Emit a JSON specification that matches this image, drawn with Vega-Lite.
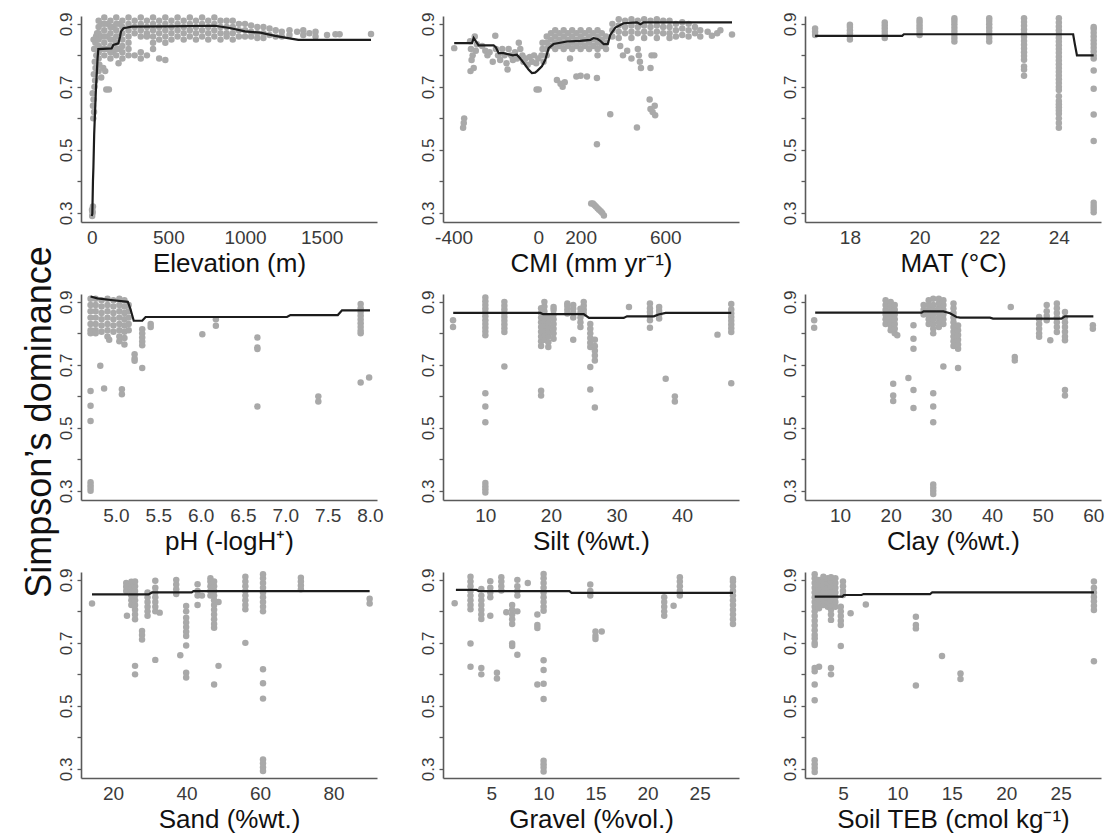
{
"$schema": "https://vega.github.io/schema/vega-lite/v6.json",
"background": "white",
"padding": {"left": 21, "top": 12, "right": 5, "bottom": 5},
"datasets": {
"p1": [
{"x":3,"y":0.29},{"x":6,"y":0.30},{"x":2,"y":0.31},{"x":8,"y":0.32},{"x":5,"y":0.305},
{"x":10,"y":0.60},{"x":15,"y":0.62},{"x":8,"y":0.64},{"x":12,"y":0.66},{"x":6,"y":0.68},{"x":18,"y":0.70},{"x":22,"y":0.72},{"x":14,"y":0.74},{"x":25,"y":0.76},{"x":20,"y":0.78},{"x":30,"y":0.80},{"x":16,"y":0.82},{"x":24,"y":0.84},{"x":28,"y":0.86},{"x":35,"y":0.87},{"x":12,"y":0.85},
{"x":50,"y":0.77},{"x":75,"y":0.76},{"x":88,"y":0.75},{"x":62,"y":0.73},{"x":95,"y":0.692},{"x":112,"y":0.692},{"x":45,"y":0.75},{"x":175,"y":0.775},
{"x":45,"y":0.91},{"x":45,"y":0.89},{"x":45,"y":0.87},{"x":45,"y":0.85},{"x":45,"y":0.83},{"x":45,"y":0.81},{"x":45,"y":0.79},
{"x":64,"y":0.90},{"x":64,"y":0.86},{"x":64,"y":0.82},{"x":102,"y":0.90},{"x":102,"y":0.86},{"x":102,"y":0.82},{"x":140,"y":0.89},{"x":140,"y":0.85},{"x":140,"y":0.81},{"x":180,"y":0.90},{"x":180,"y":0.86},{"x":180,"y":0.82},
{"x":82,"y":0.92},{"x":82,"y":0.90},{"x":82,"y":0.88},{"x":82,"y":0.86},{"x":82,"y":0.84},{"x":82,"y":0.82},{"x":82,"y":0.80},
{"x":122,"y":0.91},{"x":122,"y":0.89},{"x":122,"y":0.87},{"x":122,"y":0.85},{"x":122,"y":0.83},{"x":122,"y":0.81},{"x":122,"y":0.79},
{"x":160,"y":0.92},{"x":160,"y":0.90},{"x":160,"y":0.88},{"x":160,"y":0.86},{"x":160,"y":0.84},{"x":160,"y":0.82},{"x":160,"y":0.80},
{"x":200,"y":0.91},{"x":200,"y":0.89},{"x":200,"y":0.87},{"x":200,"y":0.85},{"x":200,"y":0.83},{"x":200,"y":0.81},{"x":200,"y":0.79},
{"x":240,"y":0.92},{"x":240,"y":0.90},{"x":240,"y":0.88},{"x":240,"y":0.86},{"x":240,"y":0.84},{"x":240,"y":0.82},{"x":240,"y":0.80},
{"x":280,"y":0.91},{"x":280,"y":0.89},{"x":280,"y":0.87},{"x":280,"y":0.80},
{"x":320,"y":0.92},{"x":320,"y":0.90},{"x":320,"y":0.88},{"x":320,"y":0.86},{"x":320,"y":0.81},{"x":320,"y":0.79},
{"x":360,"y":0.91},{"x":360,"y":0.89},{"x":360,"y":0.87},{"x":360,"y":0.86},{"x":360,"y":0.80},
{"x":400,"y":0.92},{"x":400,"y":0.90},{"x":400,"y":0.88},{"x":400,"y":0.86},{"x":400,"y":0.84},{"x":400,"y":0.82},
{"x":440,"y":0.91},{"x":440,"y":0.89},{"x":440,"y":0.87},{"x":440,"y":0.85},{"x":440,"y":0.79},
{"x":480,"y":0.92},{"x":480,"y":0.90},{"x":480,"y":0.88},{"x":480,"y":0.86},{"x":480,"y":0.84},{"x":480,"y":0.785},
{"x":520,"y":0.91},{"x":520,"y":0.89},{"x":520,"y":0.87},{"x":520,"y":0.85},
{"x":560,"y":0.92},{"x":560,"y":0.90},{"x":560,"y":0.88},{"x":560,"y":0.86},
{"x":600,"y":0.91},{"x":600,"y":0.89},{"x":600,"y":0.87},{"x":600,"y":0.85},
{"x":640,"y":0.92},{"x":640,"y":0.90},{"x":640,"y":0.88},{"x":640,"y":0.86},
{"x":680,"y":0.91},{"x":680,"y":0.89},{"x":680,"y":0.87},{"x":680,"y":0.85},
{"x":720,"y":0.92},{"x":720,"y":0.90},{"x":720,"y":0.88},{"x":720,"y":0.86},
{"x":760,"y":0.91},{"x":760,"y":0.89},{"x":760,"y":0.87},{"x":760,"y":0.85},
{"x":800,"y":0.92},{"x":800,"y":0.90},{"x":800,"y":0.88},{"x":800,"y":0.86},
{"x":840,"y":0.91},{"x":840,"y":0.89},{"x":840,"y":0.87},{"x":840,"y":0.85},
{"x":880,"y":0.91},{"x":880,"y":0.89},{"x":880,"y":0.87},{"x":880,"y":0.86},
{"x":920,"y":0.91},{"x":920,"y":0.89},{"x":920,"y":0.87},{"x":920,"y":0.85},
{"x":960,"y":0.90},{"x":960,"y":0.88},{"x":960,"y":0.86},
{"x":1000,"y":0.90},{"x":1000,"y":0.88},{"x":1000,"y":0.86},
{"x":1040,"y":0.895},{"x":1040,"y":0.875},{"x":1040,"y":0.86},
{"x":1080,"y":0.89},{"x":1080,"y":0.87},{"x":1080,"y":0.855},
{"x":1120,"y":0.89},{"x":1120,"y":0.87},{"x":1120,"y":0.855},
{"x":1160,"y":0.885},{"x":1160,"y":0.865},
{"x":1200,"y":0.88},{"x":1200,"y":0.86},
{"x":1240,"y":0.875},{"x":1240,"y":0.86},
{"x":1290,"y":0.88},{"x":1290,"y":0.865},
{"x":1340,"y":0.875},
{"x":1380,"y":0.88},{"x":1380,"y":0.865},
{"x":1420,"y":0.87},
{"x":1460,"y":0.875},{"x":1460,"y":0.86},
{"x":1535,"y":0.865},{"x":1590,"y":0.867},{"x":1617,"y":0.867},{"x":1822,"y":0.868}
],
"l1": [
{"x":0,"y":0.29},{"x":4,"y":0.297},{"x":8,"y":0.40},{"x":11,"y":0.445},{"x":16,"y":0.55},{"x":22,"y":0.626},{"x":28,"y":0.70},{"x":33,"y":0.743},{"x":38,"y":0.79},{"x":43,"y":0.82},{"x":130,"y":0.822},{"x":141,"y":0.833},{"x":174,"y":0.838},{"x":185,"y":0.86},{"x":191,"y":0.876},{"x":207,"y":0.886},{"x":261,"y":0.891},{"x":500,"y":0.892},{"x":804,"y":0.894},{"x":900,"y":0.887},{"x":1000,"y":0.876},{"x":1100,"y":0.872},{"x":1196,"y":0.862},{"x":1280,"y":0.855},{"x":1348,"y":0.849},{"x":1822,"y":0.849}
],
"r1": [{"x":0},{"x":500},{"x":1000},{"x":1500}],
"p2": [
{"x":-397,"y":0.823},
{"x":-350,"y":0.60},{"x":-352,"y":0.585},{"x":-355,"y":0.57},
{"x":-322,"y":0.845},{"x":-318,"y":0.82},{"x":-310,"y":0.80},{"x":-315,"y":0.785},{"x":-320,"y":0.75},{"x":-300,"y":0.86},{"x":-290,"y":0.835},{"x":-295,"y":0.815},{"x":-305,"y":0.76},
{"x":-265,"y":0.83},{"x":-250,"y":0.815},{"x":-240,"y":0.80},{"x":-203,"y":0.862},
{"x":-230,"y":0.81},{"x":-215,"y":0.78},{"x":-200,"y":0.82},{"x":-190,"y":0.80},{"x":-180,"y":0.785},{"x":-170,"y":0.82},{"x":-160,"y":0.80},{"x":-150,"y":0.775},{"x":-145,"y":0.755},{"x":-140,"y":0.82},{"x":-130,"y":0.80},{"x":-120,"y":0.785},{"x":-110,"y":0.81},{"x":-100,"y":0.79},{"x":-92,"y":0.84},{"x":-85,"y":0.82},{"x":-75,"y":0.80},{"x":-70,"y":0.78},{"x":-60,"y":0.79},{"x":-50,"y":0.77},{"x":-40,"y":0.795},{"x":-30,"y":0.78},{"x":-20,"y":0.80},{"x":-10,"y":0.775},{"x":0,"y":0.79},{"x":15,"y":0.80},{"x":25,"y":0.78},
{"x":-8,"y":0.692},{"x":2,"y":0.692},
{"x":20,"y":0.84},{"x":20,"y":0.82},
{"x":40,"y":0.86},{"x":40,"y":0.84},{"x":40,"y":0.82},{"x":40,"y":0.80},
{"x":60,"y":0.87},{"x":60,"y":0.85},{"x":60,"y":0.83},
{"x":80,"y":0.88},{"x":80,"y":0.86},{"x":80,"y":0.84},{"x":80,"y":0.82},
{"x":100,"y":0.87},{"x":100,"y":0.85},{"x":100,"y":0.83},
{"x":120,"y":0.88},{"x":120,"y":0.86},{"x":120,"y":0.84},{"x":120,"y":0.82},
{"x":140,"y":0.87},{"x":140,"y":0.85},{"x":140,"y":0.83},{"x":150,"y":0.79},
{"x":160,"y":0.88},{"x":160,"y":0.86},{"x":160,"y":0.84},{"x":160,"y":0.82},
{"x":180,"y":0.87},{"x":180,"y":0.85},{"x":180,"y":0.83},
{"x":200,"y":0.88},{"x":200,"y":0.86},{"x":200,"y":0.84},{"x":200,"y":0.82},
{"x":220,"y":0.87},{"x":220,"y":0.85},{"x":220,"y":0.83},
{"x":240,"y":0.88},{"x":240,"y":0.86},{"x":240,"y":0.84},{"x":240,"y":0.82},
{"x":260,"y":0.87},{"x":260,"y":0.85},{"x":260,"y":0.83},
{"x":280,"y":0.88},{"x":280,"y":0.86},{"x":280,"y":0.84},{"x":280,"y":0.82},{"x":280,"y":0.80},
{"x":300,"y":0.87},{"x":300,"y":0.85},{"x":300,"y":0.83},
{"x":320,"y":0.86},{"x":320,"y":0.84},{"x":320,"y":0.82},
{"x":88,"y":0.722},{"x":105,"y":0.71},{"x":115,"y":0.70},{"x":125,"y":0.715},{"x":180,"y":0.733},{"x":200,"y":0.735},{"x":230,"y":0.733},{"x":277,"y":0.728},{"x":277,"y":0.518},
{"x":250,"y":0.33},{"x":258,"y":0.33},{"x":265,"y":0.325},{"x":272,"y":0.32},{"x":280,"y":0.315},{"x":287,"y":0.31},{"x":295,"y":0.305},{"x":302,"y":0.30},{"x":310,"y":0.292},
{"x":340,"y":0.613},
{"x":350,"y":0.90},{"x":350,"y":0.88},{"x":350,"y":0.86},
{"x":380,"y":0.915},{"x":380,"y":0.895},{"x":380,"y":0.875},{"x":380,"y":0.855},
{"x":410,"y":0.91},{"x":410,"y":0.89},{"x":410,"y":0.87},
{"x":440,"y":0.915},{"x":440,"y":0.895},{"x":440,"y":0.875},{"x":440,"y":0.855},
{"x":470,"y":0.91},{"x":470,"y":0.89},{"x":470,"y":0.87},
{"x":500,"y":0.915},{"x":500,"y":0.895},{"x":500,"y":0.875},{"x":500,"y":0.855},
{"x":530,"y":0.91},{"x":530,"y":0.89},{"x":530,"y":0.87},
{"x":560,"y":0.915},{"x":560,"y":0.895},{"x":560,"y":0.875},{"x":560,"y":0.855},
{"x":590,"y":0.91},{"x":590,"y":0.89},{"x":590,"y":0.87},
{"x":620,"y":0.91},{"x":620,"y":0.89},{"x":620,"y":0.87},{"x":620,"y":0.855},
{"x":650,"y":0.90},{"x":650,"y":0.88},{"x":650,"y":0.86},
{"x":680,"y":0.905},{"x":680,"y":0.885},{"x":680,"y":0.865},
{"x":710,"y":0.90},{"x":710,"y":0.88},{"x":710,"y":0.86},
{"x":740,"y":0.89},{"x":740,"y":0.87},
{"x":765,"y":0.88},{"x":765,"y":0.86},
{"x":800,"y":0.875},{"x":820,"y":0.862},{"x":845,"y":0.87},{"x":860,"y":0.88},{"x":915,"y":0.866},
{"x":387,"y":0.83},{"x":400,"y":0.80},{"x":420,"y":0.815},{"x":440,"y":0.79},{"x":466,"y":0.571},{"x":470,"y":0.82},{"x":475,"y":0.80},{"x":480,"y":0.78},{"x":485,"y":0.76},
{"x":526,"y":0.66},{"x":530,"y":0.63},{"x":540,"y":0.62},{"x":550,"y":0.64},{"x":552,"y":0.61},{"x":535,"y":0.80},{"x":548,"y":0.80},{"x":530,"y":0.76}
],
"l2": [
{"x":-397,"y":0.839},{"x":-313,"y":0.839},{"x":-305,"y":0.855},{"x":-300,"y":0.85},{"x":-282,"y":0.832},{"x":-211,"y":0.832},{"x":-200,"y":0.825},{"x":-187,"y":0.807},{"x":-164,"y":0.807},{"x":-120,"y":0.80},{"x":-101,"y":0.802},{"x":-85,"y":0.79},{"x":-69,"y":0.776},{"x":-46,"y":0.755},{"x":-30,"y":0.744},{"x":-15,"y":0.745},{"x":-6,"y":0.75},{"x":17,"y":0.765},{"x":33,"y":0.786},{"x":49,"y":0.823},{"x":72,"y":0.836},{"x":135,"y":0.844},{"x":198,"y":0.846},{"x":246,"y":0.849},{"x":261,"y":0.855},{"x":280,"y":0.852},{"x":293,"y":0.846},{"x":309,"y":0.836},{"x":328,"y":0.836},{"x":340,"y":0.865},{"x":364,"y":0.888},{"x":403,"y":0.902},{"x":466,"y":0.905},{"x":482,"y":0.899},{"x":498,"y":0.905},{"x":915,"y":0.905}
],
"r2": [{"x":-400},{"x":-290},{"x":-195},{"x":-121},{"x":-6},{"x":112},{"x":180},{"x":198},{"x":309},{"x":372},{"x":443},{"x":498},{"x":600},{"x":805},{"x":923}],
"p3": [
{"x":17,"y":0.865},{"x":17,"y":0.875},{"x":17,"y":0.885},
{"x":18,"y":0.85},{"x":18,"y":0.86},{"x":18,"y":0.87},{"x":18,"y":0.88},{"x":18,"y":0.89},{"x":18,"y":0.897},
{"x":19,"y":0.855},{"x":19,"y":0.865},{"x":19,"y":0.875},{"x":19,"y":0.885},{"x":19,"y":0.895},{"x":19,"y":0.904},
{"x":20,"y":0.865},{"x":20,"y":0.875},{"x":20,"y":0.885},{"x":20,"y":0.895},{"x":20,"y":0.905},{"x":20,"y":0.913},
{"x":21,"y":0.844},{"x":21,"y":0.855},{"x":21,"y":0.866},{"x":21,"y":0.877},{"x":21,"y":0.888},{"x":21,"y":0.899},{"x":21,"y":0.909},{"x":21,"y":0.918},
{"x":22,"y":0.844},{"x":22,"y":0.855},{"x":22,"y":0.866},{"x":22,"y":0.877},{"x":22,"y":0.888},{"x":22,"y":0.899},{"x":22,"y":0.909},{"x":22,"y":0.918},
{"x":23,"y":0.786},{"x":23,"y":0.798},{"x":23,"y":0.81},{"x":23,"y":0.822},{"x":23,"y":0.834},{"x":23,"y":0.846},{"x":23,"y":0.858},{"x":23,"y":0.87},{"x":23,"y":0.882},{"x":23,"y":0.894},{"x":23,"y":0.906},{"x":23,"y":0.918},{"x":23,"y":0.765},{"x":23,"y":0.755},{"x":23,"y":0.735},
{"x":24,"y":0.70},{"x":24,"y":0.712},{"x":24,"y":0.724},{"x":24,"y":0.736},{"x":24,"y":0.748},{"x":24,"y":0.76},{"x":24,"y":0.772},{"x":24,"y":0.784},{"x":24,"y":0.796},{"x":24,"y":0.808},{"x":24,"y":0.82},{"x":24,"y":0.832},{"x":24,"y":0.844},{"x":24,"y":0.856},{"x":24,"y":0.868},{"x":24,"y":0.88},{"x":24,"y":0.892},{"x":24,"y":0.904},{"x":24,"y":0.918},
{"x":24,"y":0.69},{"x":24,"y":0.67},{"x":24,"y":0.655},{"x":24,"y":0.645},{"x":24,"y":0.635},{"x":24,"y":0.625},{"x":24,"y":0.615},{"x":24,"y":0.60},{"x":24,"y":0.585},{"x":24,"y":0.57},
{"x":25,"y":0.79},{"x":25,"y":0.80},{"x":25,"y":0.812},{"x":25,"y":0.824},{"x":25,"y":0.836},{"x":25,"y":0.848},{"x":25,"y":0.86},{"x":25,"y":0.872},{"x":25,"y":0.884},{"x":25,"y":0.89},
{"x":25,"y":0.752},{"x":25,"y":0.694},{"x":25,"y":0.612},{"x":25,"y":0.528},{"x":25,"y":0.332},{"x":25,"y":0.322},{"x":25,"y":0.312},{"x":25,"y":0.302}
],
"l3": [{"x":17,"y":0.862},{"x":19.5,"y":0.862},{"x":19.55,"y":0.867},{"x":24.41,"y":0.867},{"x":24.46,"y":0.835},{"x":24.52,"y":0.80},{"x":25,"y":0.80}],
"r3": [{"x":17},{"x":18},{"x":19},{"x":20},{"x":21},{"x":22},{"x":23},{"x":24},{"x":25}],
"p4": [
{"x":4.70,"y":0.91},{"x":4.70,"y":0.89},{"x":4.70,"y":0.87},{"x":4.70,"y":0.85},{"x":4.70,"y":0.83},{"x":4.70,"y":0.81},{"x":4.70,"y":0.80},
{"x":4.76,"y":0.91},{"x":4.76,"y":0.89},{"x":4.76,"y":0.87},{"x":4.76,"y":0.85},{"x":4.76,"y":0.83},{"x":4.76,"y":0.81},{"x":4.76,"y":0.80},
{"x":4.83,"y":0.905},{"x":4.83,"y":0.885},{"x":4.83,"y":0.865},{"x":4.83,"y":0.845},{"x":4.83,"y":0.825},{"x":4.83,"y":0.805},
{"x":4.90,"y":0.91},{"x":4.90,"y":0.89},{"x":4.90,"y":0.87},{"x":4.90,"y":0.85},{"x":4.90,"y":0.83},{"x":4.90,"y":0.81},{"x":4.90,"y":0.79},
{"x":4.97,"y":0.905},{"x":4.97,"y":0.885},{"x":4.97,"y":0.865},{"x":4.97,"y":0.845},{"x":4.97,"y":0.825},{"x":4.97,"y":0.805},
{"x":5.04,"y":0.91},{"x":5.04,"y":0.89},{"x":5.04,"y":0.87},{"x":5.04,"y":0.85},{"x":5.04,"y":0.83},{"x":5.04,"y":0.81},{"x":5.04,"y":0.79},{"x":5.04,"y":0.775},
{"x":5.10,"y":0.905},{"x":5.10,"y":0.885},{"x":5.10,"y":0.865},{"x":5.10,"y":0.845},{"x":5.10,"y":0.825},{"x":5.10,"y":0.805},{"x":5.10,"y":0.785},{"x":5.10,"y":0.765},
{"x":5.15,"y":0.89},{"x":5.15,"y":0.87},{"x":5.15,"y":0.85},{"x":5.15,"y":0.83},{"x":5.15,"y":0.81},
{"x":4.70,"y":0.617},{"x":4.70,"y":0.57},{"x":4.70,"y":0.522},{"x":4.70,"y":0.327},{"x":4.70,"y":0.318},{"x":4.70,"y":0.309},{"x":4.70,"y":0.30},
{"x":4.815,"y":0.697},{"x":4.86,"y":0.625},{"x":4.92,"y":0.78},{"x":5.07,"y":0.623},{"x":5.07,"y":0.607},
{"x":5.22,"y":0.734},{"x":5.22,"y":0.72},{"x":5.22,"y":0.713},
{"x":5.31,"y":0.813},{"x":5.31,"y":0.80},{"x":5.31,"y":0.787},{"x":5.31,"y":0.774},{"x":5.31,"y":0.762},{"x":5.31,"y":0.69},
{"x":5.41,"y":0.83},{"x":5.41,"y":0.82},{"x":6.02,"y":0.797},{"x":6.18,"y":0.845},{"x":6.18,"y":0.824},
{"x":6.67,"y":0.787},{"x":6.67,"y":0.755},{"x":6.67,"y":0.75},{"x":6.67,"y":0.568},{"x":7.39,"y":0.60},{"x":7.39,"y":0.584},
{"x":7.89,"y":0.893},{"x":7.89,"y":0.88},{"x":7.89,"y":0.868},{"x":7.89,"y":0.856},{"x":7.89,"y":0.844},{"x":7.89,"y":0.832},{"x":7.89,"y":0.82},{"x":7.89,"y":0.808},{"x":7.89,"y":0.80},{"x":7.89,"y":0.644},{"x":7.99,"y":0.66}
],
"l4": [{"x":4.70,"y":0.917},{"x":4.78,"y":0.911},{"x":4.94,"y":0.906},{"x":5.14,"y":0.90},{"x":5.17,"y":0.878},{"x":5.21,"y":0.84},{"x":5.31,"y":0.84},{"x":5.35,"y":0.852},{"x":7.02,"y":0.852},{"x":7.06,"y":0.858},{"x":7.62,"y":0.858},{"x":7.67,"y":0.873},{"x":8.0,"y":0.873}],
"r4": [{"x":4.71},{"x":4.76},{"x":4.82},{"x":4.87},{"x":4.92},{"x":4.97},{"x":5.06},{"x":5.11},{"x":7.99}],
"p5": [
{"x":5.07,"y":0.842},{"x":5.07,"y":0.82},
{"x":10,"y":0.794},{"x":10,"y":0.806},{"x":10,"y":0.818},{"x":10,"y":0.83},{"x":10,"y":0.842},{"x":10,"y":0.854},{"x":10,"y":0.866},{"x":10,"y":0.878},{"x":10,"y":0.89},{"x":10,"y":0.902},{"x":10,"y":0.914},
{"x":10,"y":0.61},{"x":10,"y":0.568},{"x":10,"y":0.518},{"x":10,"y":0.325},{"x":10,"y":0.315},{"x":10,"y":0.305},{"x":10,"y":0.295},
{"x":12.9,"y":0.804},{"x":12.9,"y":0.816},{"x":12.9,"y":0.828},{"x":12.9,"y":0.84},{"x":12.9,"y":0.852},{"x":12.9,"y":0.864},{"x":12.9,"y":0.876},{"x":12.9,"y":0.888},{"x":12.9,"y":0.90},{"x":12.9,"y":0.695},
{"x":18.5,"y":0.76},{"x":18.5,"y":0.775},{"x":18.5,"y":0.79},{"x":18.5,"y":0.805},{"x":18.5,"y":0.82},{"x":18.5,"y":0.835},{"x":18.5,"y":0.85},{"x":18.5,"y":0.865},{"x":18.5,"y":0.88},{"x":18.5,"y":0.618},{"x":18.5,"y":0.603},
{"x":19.0,"y":0.78},{"x":19.0,"y":0.795},{"x":19.0,"y":0.81},{"x":19.0,"y":0.825},{"x":19.0,"y":0.84},{"x":19.0,"y":0.855},{"x":19.0,"y":0.87},{"x":19.0,"y":0.885},{"x":19.0,"y":0.90},
{"x":19.6,"y":0.757},{"x":19.6,"y":0.772},{"x":19.6,"y":0.79},{"x":19.6,"y":0.805},{"x":19.6,"y":0.82},{"x":19.6,"y":0.835},{"x":19.6,"y":0.85},
{"x":20.4,"y":0.783},{"x":20.4,"y":0.80},{"x":20.4,"y":0.815},{"x":20.4,"y":0.83},{"x":20.4,"y":0.845},{"x":20.4,"y":0.86},{"x":20.4,"y":0.875},{"x":20.4,"y":0.884},
{"x":22.5,"y":0.863},{"x":22.5,"y":0.875},{"x":22.5,"y":0.887},{"x":22.5,"y":0.895},
{"x":23.4,"y":0.85},{"x":23.4,"y":0.865},{"x":23.4,"y":0.878},{"x":23.4,"y":0.89},{"x":23.4,"y":0.78},
{"x":24.5,"y":0.82},{"x":24.5,"y":0.835},{"x":24.5,"y":0.85},{"x":24.5,"y":0.865},{"x":24.5,"y":0.878},
{"x":25.0,"y":0.863},{"x":25.0,"y":0.875},{"x":25.0,"y":0.888},{"x":25.0,"y":0.90},
{"x":26.0,"y":0.757},{"x":26.0,"y":0.77},{"x":26.0,"y":0.785},{"x":26.0,"y":0.80},{"x":26.0,"y":0.815},{"x":26.0,"y":0.83},{"x":26.0,"y":0.693},{"x":26.0,"y":0.622},
{"x":26.7,"y":0.714},{"x":26.7,"y":0.73},{"x":26.7,"y":0.745},{"x":26.7,"y":0.76},{"x":26.7,"y":0.78},{"x":26.7,"y":0.565},
{"x":31.9,"y":0.884},
{"x":35.1,"y":0.842},{"x":35.1,"y":0.855},{"x":35.1,"y":0.868},{"x":35.1,"y":0.88},{"x":35.1,"y":0.895},{"x":35.1,"y":0.818},
{"x":36.5,"y":0.847},{"x":36.5,"y":0.86},{"x":36.5,"y":0.872},{"x":36.5,"y":0.884},
{"x":37.5,"y":0.656},{"x":38.9,"y":0.60},{"x":38.9,"y":0.584},{"x":45.4,"y":0.796},
{"x":47.5,"y":0.804},{"x":47.5,"y":0.816},{"x":47.5,"y":0.828},{"x":47.5,"y":0.84},{"x":47.5,"y":0.852},{"x":47.5,"y":0.864},{"x":47.5,"y":0.876},{"x":47.5,"y":0.893},{"x":47.5,"y":0.642}
],
"l5": [{"x":5.1,"y":0.865},{"x":18.4,"y":0.865},{"x":18.8,"y":0.861},{"x":25.0,"y":0.861},{"x":25.8,"y":0.849},{"x":31.1,"y":0.849},{"x":31.6,"y":0.854},{"x":35.7,"y":0.854},{"x":36.4,"y":0.86},{"x":37.5,"y":0.865},{"x":47.5,"y":0.865}],
"r5": [{"x":5.1},{"x":10},{"x":19.2},{"x":20.7},{"x":23.7},{"x":25},{"x":30.3},{"x":35.2},{"x":47.6}],
"p6": [
{"x":4.9,"y":0.842},{"x":4.9,"y":0.818},
{"x":19.0,"y":0.83},{"x":19.0,"y":0.845},{"x":19.0,"y":0.86},{"x":19.0,"y":0.875},{"x":19.0,"y":0.89},{"x":19.0,"y":0.905},
{"x":20.0,"y":0.81},{"x":20.0,"y":0.825},{"x":20.0,"y":0.84},{"x":20.0,"y":0.855},{"x":20.0,"y":0.87},{"x":20.0,"y":0.885},{"x":20.0,"y":0.90},
{"x":20.8,"y":0.80},{"x":20.8,"y":0.815},{"x":20.8,"y":0.83},{"x":20.8,"y":0.845},{"x":20.8,"y":0.86},{"x":20.8,"y":0.875},{"x":20.8,"y":0.89},
{"x":21.3,"y":0.794},{"x":20.5,"y":0.64},{"x":20.5,"y":0.603},{"x":20.5,"y":0.585},{"x":23.5,"y":0.658},
{"x":24.5,"y":0.826},{"x":24.5,"y":0.783},{"x":24.5,"y":0.751},{"x":24.5,"y":0.62},{"x":24.5,"y":0.563},
{"x":26.5,"y":0.86},{"x":26.5,"y":0.875},{"x":26.5,"y":0.89},
{"x":27.5,"y":0.83},{"x":27.5,"y":0.845},{"x":27.5,"y":0.86},{"x":27.5,"y":0.875},{"x":27.5,"y":0.89},{"x":27.5,"y":0.905},
{"x":28.4,"y":0.80},{"x":28.4,"y":0.815},{"x":28.4,"y":0.83},{"x":28.4,"y":0.845},{"x":28.4,"y":0.86},{"x":28.4,"y":0.875},{"x":28.4,"y":0.89},{"x":28.4,"y":0.91},
{"x":28.4,"y":0.61},{"x":28.4,"y":0.568},{"x":28.4,"y":0.518},{"x":28.4,"y":0.32},{"x":28.4,"y":0.31},{"x":28.4,"y":0.30},{"x":28.4,"y":0.29},
{"x":29.5,"y":0.82},{"x":29.5,"y":0.835},{"x":29.5,"y":0.85},{"x":29.5,"y":0.865},{"x":29.5,"y":0.88},{"x":29.5,"y":0.895},{"x":29.5,"y":0.91},
{"x":30.4,"y":0.83},{"x":30.4,"y":0.845},{"x":30.4,"y":0.86},{"x":30.4,"y":0.875},{"x":30.4,"y":0.89},{"x":30.4,"y":0.905},{"x":30.4,"y":0.695},
{"x":32.4,"y":0.76},{"x":32.4,"y":0.775},{"x":32.4,"y":0.79},{"x":32.4,"y":0.805},{"x":32.4,"y":0.82},{"x":32.4,"y":0.835},{"x":32.4,"y":0.85},{"x":32.4,"y":0.865},{"x":32.4,"y":0.88},{"x":32.4,"y":0.895},
{"x":33.3,"y":0.751},{"x":33.3,"y":0.765},{"x":33.3,"y":0.78},{"x":33.3,"y":0.795},{"x":33.3,"y":0.81},{"x":33.3,"y":0.825},{"x":33.3,"y":0.69},
{"x":43.7,"y":0.884},{"x":44.5,"y":0.725},{"x":44.5,"y":0.714},
{"x":49.3,"y":0.789},{"x":49.3,"y":0.80},{"x":49.3,"y":0.815},{"x":49.3,"y":0.83},{"x":49.3,"y":0.845},{"x":49.3,"y":0.852},
{"x":50.8,"y":0.842},{"x":50.8,"y":0.855},{"x":50.8,"y":0.87},{"x":50.8,"y":0.89},{"x":51.5,"y":0.778},
{"x":52.8,"y":0.804},{"x":52.8,"y":0.82},{"x":52.8,"y":0.835},{"x":52.8,"y":0.85},{"x":52.8,"y":0.865},{"x":52.8,"y":0.88},{"x":52.8,"y":0.895},
{"x":54.4,"y":0.778},{"x":54.4,"y":0.79},{"x":54.4,"y":0.805},{"x":54.4,"y":0.82},{"x":54.4,"y":0.835},{"x":54.4,"y":0.85},{"x":54.4,"y":0.868},{"x":54.4,"y":0.62},{"x":54.4,"y":0.603},
{"x":59.9,"y":0.826},{"x":59.9,"y":0.815}
],
"l6": [{"x":5.1,"y":0.866},{"x":26.1,"y":0.866},{"x":26.5,"y":0.87},{"x":30.4,"y":0.87},{"x":31.7,"y":0.864},{"x":33.0,"y":0.852},{"x":33.7,"y":0.85},{"x":39.6,"y":0.85},{"x":40.2,"y":0.847},{"x":53.7,"y":0.847},{"x":54.4,"y":0.854},{"x":60.0,"y":0.854}],
"r6": [{"x":5.1},{"x":26.8},{"x":28.4},{"x":29.5},{"x":30.4},{"x":32.2},{"x":33.0},{"x":51},{"x":60.9}],
"p7": [
{"x":14.3,"y":0.825},
{"x":23.6,"y":0.865},{"x":23.6,"y":0.878},{"x":23.6,"y":0.89},{"x":23.8,"y":0.786},
{"x":25.0,"y":0.82},{"x":25.0,"y":0.835},{"x":25.0,"y":0.85},{"x":25.0,"y":0.865},{"x":25.0,"y":0.88},{"x":25.0,"y":0.894},
{"x":26.0,"y":0.775},{"x":26.0,"y":0.79},{"x":26.0,"y":0.805},{"x":26.0,"y":0.82},{"x":26.0,"y":0.835},{"x":26.0,"y":0.85},{"x":26.0,"y":0.865},{"x":26.0,"y":0.88},{"x":26.0,"y":0.895},{"x":26.0,"y":0.627},{"x":26.0,"y":0.60},
{"x":27.9,"y":0.738},{"x":27.9,"y":0.725},{"x":27.9,"y":0.711},
{"x":29.4,"y":0.786},{"x":29.4,"y":0.80},{"x":29.4,"y":0.815},{"x":29.4,"y":0.83},{"x":29.4,"y":0.845},{"x":29.4,"y":0.86},
{"x":31.5,"y":0.80},{"x":31.5,"y":0.815},{"x":31.5,"y":0.83},{"x":31.5,"y":0.845},{"x":31.5,"y":0.86},{"x":31.5,"y":0.875},{"x":31.5,"y":0.897},{"x":31.5,"y":0.646},
{"x":32.7,"y":0.796},
{"x":37.2,"y":0.855},{"x":37.2,"y":0.87},{"x":37.2,"y":0.885},{"x":37.2,"y":0.90},
{"x":38.3,"y":0.661},
{"x":39.9,"y":0.722},{"x":39.9,"y":0.735},{"x":39.9,"y":0.75},{"x":39.9,"y":0.765},{"x":39.9,"y":0.78},{"x":39.9,"y":0.80},{"x":39.9,"y":0.817},{"x":39.9,"y":0.692},{"x":39.9,"y":0.605},{"x":39.9,"y":0.59},
{"x":43.0,"y":0.85},{"x":43.0,"y":0.865},{"x":43.0,"y":0.886},{"x":43.0,"y":0.82},{"x":44.2,"y":0.85},
{"x":46.5,"y":0.85},{"x":46.5,"y":0.865},{"x":46.5,"y":0.88},{"x":46.5,"y":0.895},{"x":46.5,"y":0.905},
{"x":47.5,"y":0.748},{"x":47.5,"y":0.76},{"x":47.5,"y":0.775},{"x":47.5,"y":0.79},{"x":47.5,"y":0.805},{"x":47.5,"y":0.82},{"x":47.5,"y":0.835},{"x":47.5,"y":0.85},{"x":47.5,"y":0.865},{"x":47.5,"y":0.88},{"x":47.5,"y":0.895},{"x":47.5,"y":0.568},
{"x":48.7,"y":0.83},{"x":48.7,"y":0.627},
{"x":56.0,"y":0.807},{"x":56.0,"y":0.82},{"x":56.0,"y":0.835},{"x":56.0,"y":0.85},{"x":56.0,"y":0.865},{"x":56.0,"y":0.88},{"x":56.0,"y":0.895},{"x":56.0,"y":0.91},{"x":56.0,"y":0.70},
{"x":60.8,"y":0.80},{"x":60.8,"y":0.815},{"x":60.8,"y":0.83},{"x":60.8,"y":0.845},{"x":60.8,"y":0.86},{"x":60.8,"y":0.875},{"x":60.8,"y":0.89},{"x":60.8,"y":0.905},{"x":60.8,"y":0.918},
{"x":60.8,"y":0.616},{"x":60.8,"y":0.572},{"x":60.8,"y":0.523},{"x":60.8,"y":0.33},{"x":60.8,"y":0.318},{"x":60.8,"y":0.305},{"x":60.8,"y":0.293},
{"x":71.1,"y":0.87},{"x":71.1,"y":0.882},{"x":71.1,"y":0.895},{"x":71.1,"y":0.907},
{"x":89.8,"y":0.84},{"x":89.8,"y":0.825}
],
"l7": [{"x":14.3,"y":0.854},{"x":29.7,"y":0.854},{"x":30.6,"y":0.86},{"x":41.4,"y":0.86},{"x":41.9,"y":0.864},{"x":89.8,"y":0.864}],
"r7": [{"x":14.1},{"x":24},{"x":30.2},{"x":37},{"x":46.5},{"x":47.6},{"x":56},{"x":60.8},{"x":89.8}],
"p8": [
{"x":1.48,"y":0.826},
{"x":3.0,"y":0.807},{"x":3.0,"y":0.82},{"x":3.0,"y":0.835},{"x":3.0,"y":0.85},{"x":3.0,"y":0.865},{"x":3.0,"y":0.88},{"x":3.0,"y":0.895},{"x":3.0,"y":0.91},{"x":3.0,"y":0.698},{"x":3.0,"y":0.624},
{"x":4.04,"y":0.776},{"x":4.04,"y":0.79},{"x":4.04,"y":0.805},{"x":4.04,"y":0.82},{"x":4.04,"y":0.835},{"x":4.04,"y":0.85},{"x":4.04,"y":0.871},{"x":4.04,"y":0.62},{"x":4.04,"y":0.60},
{"x":4.9,"y":0.845},{"x":4.9,"y":0.86},{"x":4.9,"y":0.875},{"x":4.9,"y":0.896},{"x":4.9,"y":0.786},
{"x":5.54,"y":0.605},{"x":5.54,"y":0.587},
{"x":5.96,"y":0.866},{"x":5.96,"y":0.88},{"x":5.96,"y":0.895},{"x":5.96,"y":0.908},
{"x":6.44,"y":0.797},
{"x":7.0,"y":0.76},{"x":7.0,"y":0.775},{"x":7.0,"y":0.79},{"x":7.0,"y":0.805},{"x":7.0,"y":0.82},{"x":7.0,"y":0.698},{"x":7.0,"y":0.69},
{"x":7.5,"y":0.85},{"x":7.5,"y":0.865},{"x":7.5,"y":0.88},{"x":7.5,"y":0.90},{"x":7.5,"y":0.80},{"x":7.5,"y":0.662},
{"x":8.5,"y":0.89},
{"x":9.42,"y":0.79},{"x":9.42,"y":0.757},{"x":9.42,"y":0.747},{"x":9.42,"y":0.568},
{"x":10.02,"y":0.802},{"x":10.02,"y":0.815},{"x":10.02,"y":0.83},{"x":10.02,"y":0.845},{"x":10.02,"y":0.86},{"x":10.02,"y":0.875},{"x":10.02,"y":0.89},{"x":10.02,"y":0.905},{"x":10.02,"y":0.919},
{"x":10.02,"y":0.645},{"x":10.02,"y":0.614},{"x":10.02,"y":0.57},{"x":10.02,"y":0.522},{"x":10.02,"y":0.326},{"x":10.02,"y":0.315},{"x":10.02,"y":0.304},{"x":10.02,"y":0.292},
{"x":14.5,"y":0.85},{"x":14.5,"y":0.865},{"x":14.5,"y":0.885},
{"x":15.0,"y":0.736},{"x":15.0,"y":0.722},{"x":15.0,"y":0.712},{"x":15.6,"y":0.736},
{"x":21.6,"y":0.786},{"x":21.6,"y":0.80},{"x":21.6,"y":0.815},{"x":21.6,"y":0.83},{"x":21.6,"y":0.845},
{"x":22.5,"y":0.818},
{"x":23.1,"y":0.85},{"x":23.1,"y":0.865},{"x":23.1,"y":0.88},{"x":23.1,"y":0.895},{"x":23.1,"y":0.908},
{"x":28.2,"y":0.76},{"x":28.2,"y":0.775},{"x":28.2,"y":0.79},{"x":28.2,"y":0.805},{"x":28.2,"y":0.82},{"x":28.2,"y":0.835},{"x":28.2,"y":0.85},{"x":28.2,"y":0.865},{"x":28.2,"y":0.88},{"x":28.2,"y":0.895},{"x":28.2,"y":0.903}
],
"l8": [{"x":1.6,"y":0.868},{"x":3.6,"y":0.868},{"x":3.8,"y":0.864},{"x":12.5,"y":0.864},{"x":12.7,"y":0.859},{"x":28.2,"y":0.859}],
"r8": [{"x":1.48},{"x":3.08},{"x":5},{"x":7.08},{"x":7.5},{"x":10.06},{"x":23.2},{"x":28.3}],
"p9": [
{"x":2.4,"y":0.725},{"x":2.4,"y":0.74},{"x":2.4,"y":0.755},{"x":2.4,"y":0.77},{"x":2.4,"y":0.785},{"x":2.4,"y":0.80},{"x":2.4,"y":0.815},{"x":2.4,"y":0.83},{"x":2.4,"y":0.845},{"x":2.4,"y":0.86},{"x":2.4,"y":0.875},{"x":2.4,"y":0.89},{"x":2.4,"y":0.905},{"x":2.4,"y":0.918},
{"x":2.4,"y":0.714},{"x":2.4,"y":0.70},{"x":2.4,"y":0.693},{"x":2.4,"y":0.62},{"x":2.4,"y":0.61},{"x":2.4,"y":0.568},{"x":2.4,"y":0.518},{"x":2.4,"y":0.327},{"x":2.4,"y":0.315},{"x":2.4,"y":0.303},{"x":2.4,"y":0.29},
{"x":2.8,"y":0.81},{"x":2.8,"y":0.825},{"x":2.8,"y":0.84},{"x":2.8,"y":0.855},{"x":2.8,"y":0.87},{"x":2.8,"y":0.885},{"x":2.8,"y":0.90},{"x":2.8,"y":0.624},
{"x":3.2,"y":0.82},{"x":3.2,"y":0.835},{"x":3.2,"y":0.85},{"x":3.2,"y":0.865},{"x":3.2,"y":0.88},{"x":3.2,"y":0.895},{"x":3.2,"y":0.91},
{"x":3.6,"y":0.815},{"x":3.6,"y":0.83},{"x":3.6,"y":0.845},{"x":3.6,"y":0.86},{"x":3.6,"y":0.875},{"x":3.6,"y":0.89},{"x":3.6,"y":0.905},
{"x":3.9,"y":0.773},{"x":3.9,"y":0.79},{"x":3.9,"y":0.805},{"x":3.9,"y":0.82},{"x":3.9,"y":0.835},{"x":3.9,"y":0.85},{"x":3.9,"y":0.865},{"x":3.9,"y":0.88},{"x":3.9,"y":0.895},{"x":3.9,"y":0.908},{"x":3.9,"y":0.62},{"x":3.9,"y":0.60},
{"x":4.3,"y":0.815},{"x":4.3,"y":0.83},{"x":4.3,"y":0.845},{"x":4.3,"y":0.86},{"x":4.3,"y":0.875},{"x":4.3,"y":0.89},{"x":4.3,"y":0.905},
{"x":4.8,"y":0.757},{"x":4.8,"y":0.77},{"x":4.8,"y":0.785},{"x":4.8,"y":0.80},{"x":4.8,"y":0.815},{"x":4.8,"y":0.69},
{"x":5.0,"y":0.852},{"x":5.0,"y":0.865},{"x":5.0,"y":0.88},{"x":5.0,"y":0.895},
{"x":5.7,"y":0.794},{"x":7.1,"y":0.822},
{"x":11.7,"y":0.783},{"x":11.7,"y":0.757},{"x":11.7,"y":0.746},{"x":11.7,"y":0.565},
{"x":14.1,"y":0.658},{"x":15.8,"y":0.603},{"x":15.8,"y":0.585},
{"x":28.06,"y":0.804},{"x":28.06,"y":0.818},{"x":28.06,"y":0.832},{"x":28.06,"y":0.846},{"x":28.06,"y":0.86},{"x":28.06,"y":0.875},{"x":28.06,"y":0.895},{"x":28.06,"y":0.642}
],
"l9": [{"x":2.4,"y":0.847},{"x":4.94,"y":0.847},{"x":5.1,"y":0.852},{"x":6.7,"y":0.852},{"x":6.9,"y":0.855},{"x":13.0,"y":0.855},{"x":13.2,"y":0.86},{"x":28.06,"y":0.86}],
"r9": [{"x":2.49},{"x":3.56},{"x":4.02},{"x":4.26},{"x":5},{"x":28.06}]
},
"title": {"text": "Simpson’s dominance", "orient": "left", "anchor": "middle", "fontSize": 36, "fontWeight": "normal", "font": "Liberation Sans", "color": "#111111", "offset": -2},
"columns": 3,
"spacing": {"row": 72, "column": 66},
"bounds": "flush",
"concat": [
{"width": 296, "height": 206,
 "encoding": {
  "x": {"field": "x", "type": "quantitative", "scale": {"domain": [-70, 1861], "nice": false, "zero": false}, "axis": {"values": [0, 500, 1000, 1500], "labelExpr": "datum.value + ''", "title": "Elevation (m)"}},
  "y": {"field": "y", "type": "quantitative", "scale": {"domain": [0.271, 0.925], "nice": false, "zero": false}, "axis": {"title": null, "values": [0.3,0.4,0.5,0.6,0.7,0.8,0.9], "labelExpr": "round(datum.value*10) % 2 == 1 ? format(datum.value, '.1f') : ''"}}
 },
 "layer": [
  {"data": {"name": "p1"}, "mark": {"type": "circle", "size": 42, "color": "#a9a9a9", "opacity": 1}},
  {"data": {"name": "l1"}, "mark": {"type": "line", "color": "#1c1c1c", "strokeWidth": 2.2}},
  {"data": {"name": "r1"}, "mark": {"type": "rule", "color": "#555555", "strokeWidth": 1.4}, "encoding": {"y": {"datum": 0.271}, "y2": {"datum": 0.292}}}
 ]},
{"width": 296, "height": 206,
 "encoding": {
  "x": {"field": "x", "type": "quantitative", "scale": {"domain": [-450, 948], "nice": false, "zero": false}, "axis": {"values": [-400, 0, 200, 600], "labelExpr": "datum.value + ''", "title": "CMI (mm yr⁻¹)"}},
  "y": {"field": "y", "type": "quantitative", "scale": {"domain": [0.271, 0.925], "nice": false, "zero": false}, "axis": {"title": null, "values": [0.3,0.4,0.5,0.6,0.7,0.8,0.9], "labelExpr": "round(datum.value*10) % 2 == 1 ? format(datum.value, '.1f') : ''"}}
 },
 "layer": [
  {"data": {"name": "p2"}, "mark": {"type": "circle", "size": 42, "color": "#a9a9a9", "opacity": 1}},
  {"data": {"name": "l2"}, "mark": {"type": "line", "color": "#1c1c1c", "strokeWidth": 2.2}},
  {"data": {"name": "r2"}, "mark": {"type": "rule", "color": "#555555", "strokeWidth": 1.4}, "encoding": {"y": {"datum": 0.271}, "y2": {"datum": 0.292}}}
 ]},
{"width": 296, "height": 206,
 "encoding": {
  "x": {"field": "x", "type": "quantitative", "scale": {"domain": [16.71, 25.21], "nice": false, "zero": false}, "axis": {"values": [18, 20, 22, 24], "title": "MAT (°C)"}},
  "y": {"field": "y", "type": "quantitative", "scale": {"domain": [0.271, 0.925], "nice": false, "zero": false}, "axis": {"title": null, "values": [0.3,0.4,0.5,0.6,0.7,0.8,0.9], "labelExpr": "round(datum.value*10) % 2 == 1 ? format(datum.value, '.1f') : ''"}}
 },
 "layer": [
  {"data": {"name": "p3"}, "mark": {"type": "circle", "size": 42, "color": "#a9a9a9", "opacity": 1}},
  {"data": {"name": "l3"}, "mark": {"type": "line", "color": "#1c1c1c", "strokeWidth": 2.2}},
  {"data": {"name": "r3"}, "mark": {"type": "rule", "color": "#555555", "strokeWidth": 1.4}, "encoding": {"y": {"datum": 0.271}, "y2": {"datum": 0.292}}}
 ]},
{"width": 296, "height": 206,
 "encoding": {
  "x": {"field": "x", "type": "quantitative", "scale": {"domain": [4.587, 8.083], "nice": false, "zero": false}, "axis": {"values": [5, 5.5, 6, 6.5, 7, 7.5, 8], "format": ".1f", "title": "pH (-logH⁺)"}},
  "y": {"field": "y", "type": "quantitative", "scale": {"domain": [0.271, 0.925], "nice": false, "zero": false}, "axis": {"title": null, "values": [0.3,0.4,0.5,0.6,0.7,0.8,0.9], "labelExpr": "round(datum.value*10) % 2 == 1 ? format(datum.value, '.1f') : ''"}}
 },
 "layer": [
  {"data": {"name": "p4"}, "mark": {"type": "circle", "size": 42, "color": "#a9a9a9", "opacity": 1}},
  {"data": {"name": "l4"}, "mark": {"type": "line", "color": "#1c1c1c", "strokeWidth": 2.2}},
  {"data": {"name": "r4"}, "mark": {"type": "rule", "color": "#555555", "strokeWidth": 1.4}, "encoding": {"y": {"datum": 0.271}, "y2": {"datum": 0.292}}}
 ]},
{"width": 296, "height": 206,
 "encoding": {
  "x": {"field": "x", "type": "quantitative", "scale": {"domain": [3.54, 48.68], "nice": false, "zero": false}, "axis": {"values": [10, 20, 30, 40], "title": "Silt (%wt.)"}},
  "y": {"field": "y", "type": "quantitative", "scale": {"domain": [0.271, 0.925], "nice": false, "zero": false}, "axis": {"title": null, "values": [0.3,0.4,0.5,0.6,0.7,0.8,0.9], "labelExpr": "round(datum.value*10) % 2 == 1 ? format(datum.value, '.1f') : ''"}}
 },
 "layer": [
  {"data": {"name": "p5"}, "mark": {"type": "circle", "size": 42, "color": "#a9a9a9", "opacity": 1}},
  {"data": {"name": "l5"}, "mark": {"type": "line", "color": "#1c1c1c", "strokeWidth": 2.2}},
  {"data": {"name": "r5"}, "mark": {"type": "rule", "color": "#555555", "strokeWidth": 1.4}, "encoding": {"y": {"datum": 0.271}, "y2": {"datum": 0.292}}}
 ]},
{"width": 296, "height": 206,
 "encoding": {
  "x": {"field": "x", "type": "quantitative", "scale": {"domain": [3.09, 61.51], "nice": false, "zero": false}, "axis": {"values": [10, 20, 30, 40, 50, 60], "title": "Clay (%wt.)"}},
  "y": {"field": "y", "type": "quantitative", "scale": {"domain": [0.271, 0.925], "nice": false, "zero": false}, "axis": {"title": null, "values": [0.3,0.4,0.5,0.6,0.7,0.8,0.9], "labelExpr": "round(datum.value*10) % 2 == 1 ? format(datum.value, '.1f') : ''"}}
 },
 "layer": [
  {"data": {"name": "p6"}, "mark": {"type": "circle", "size": 42, "color": "#a9a9a9", "opacity": 1}},
  {"data": {"name": "l6"}, "mark": {"type": "line", "color": "#1c1c1c", "strokeWidth": 2.2}},
  {"data": {"name": "r6"}, "mark": {"type": "rule", "color": "#555555", "strokeWidth": 1.4}, "encoding": {"y": {"datum": 0.271}, "y2": {"datum": 0.292}}}
 ]},
{"width": 296, "height": 206,
 "encoding": {
  "x": {"field": "x", "type": "quantitative", "scale": {"domain": [11.3, 91.8], "nice": false, "zero": false}, "axis": {"values": [20, 40, 60, 80], "title": "Sand (%wt.)"}},
  "y": {"field": "y", "type": "quantitative", "scale": {"domain": [0.271, 0.925], "nice": false, "zero": false}, "axis": {"title": null, "values": [0.3,0.4,0.5,0.6,0.7,0.8,0.9], "labelExpr": "round(datum.value*10) % 2 == 1 ? format(datum.value, '.1f') : ''"}}
 },
 "layer": [
  {"data": {"name": "p7"}, "mark": {"type": "circle", "size": 42, "color": "#a9a9a9", "opacity": 1}},
  {"data": {"name": "l7"}, "mark": {"type": "line", "color": "#1c1c1c", "strokeWidth": 2.2}},
  {"data": {"name": "r7"}, "mark": {"type": "rule", "color": "#555555", "strokeWidth": 1.4}, "encoding": {"y": {"datum": 0.271}, "y2": {"datum": 0.292}}}
 ]},
{"width": 296, "height": 206,
 "encoding": {
  "x": {"field": "x", "type": "quantitative", "scale": {"domain": [0.36, 28.78], "nice": false, "zero": false}, "axis": {"values": [5, 10, 15, 20, 25], "title": "Gravel (%vol.)"}},
  "y": {"field": "y", "type": "quantitative", "scale": {"domain": [0.271, 0.925], "nice": false, "zero": false}, "axis": {"title": null, "values": [0.3,0.4,0.5,0.6,0.7,0.8,0.9], "labelExpr": "round(datum.value*10) % 2 == 1 ? format(datum.value, '.1f') : ''"}}
 },
 "layer": [
  {"data": {"name": "p8"}, "mark": {"type": "circle", "size": 42, "color": "#a9a9a9", "opacity": 1}},
  {"data": {"name": "l8"}, "mark": {"type": "line", "color": "#1c1c1c", "strokeWidth": 2.2}},
  {"data": {"name": "r8"}, "mark": {"type": "rule", "color": "#555555", "strokeWidth": 1.4}, "encoding": {"y": {"datum": 0.271}, "y2": {"datum": 0.292}}}
 ]},
{"width": 296, "height": 206,
 "encoding": {
  "x": {"field": "x", "type": "quantitative", "scale": {"domain": [1.51, 28.71], "nice": false, "zero": false}, "axis": {"values": [5, 10, 15, 20, 25], "title": "Soil TEB (cmol kg⁻¹)"}},
  "y": {"field": "y", "type": "quantitative", "scale": {"domain": [0.271, 0.925], "nice": false, "zero": false}, "axis": {"title": null, "values": [0.3,0.4,0.5,0.6,0.7,0.8,0.9], "labelExpr": "round(datum.value*10) % 2 == 1 ? format(datum.value, '.1f') : ''"}}
 },
 "layer": [
  {"data": {"name": "p9"}, "mark": {"type": "circle", "size": 42, "color": "#a9a9a9", "opacity": 1}},
  {"data": {"name": "l9"}, "mark": {"type": "line", "color": "#1c1c1c", "strokeWidth": 2.2}},
  {"data": {"name": "r9"}, "mark": {"type": "rule", "color": "#555555", "strokeWidth": 1.4}, "encoding": {"y": {"datum": 0.271}, "y2": {"datum": 0.292}}}
 ]}
],
"config": {
  "view": {"stroke": null},
  "font": "Liberation Sans",
  "axis": {"grid": false, "domainColor": "#5a5a5a", "domainWidth": 1.6, "labelColor": "#3a3a3a", "titleColor": "#111111", "titleFontWeight": "normal", "labelFont": "Liberation Sans", "titleFont": "Liberation Sans", "labelFlush": false, "labelOverlap": false},
  "axisX": {"ticks": false, "labelFontSize": 19, "titleFontSize": 26, "labelPadding": 6, "titlePadding": 3},
  "axisY": {"labelAngle": -90, "labelAlign": "center", "labelBaseline": "alphabetic", "labelFontSize": 17, "labelPadding": 6, "tickSize": 4, "tickColor": "#5a5a5a", "tickWidth": 1.3}
}
}
